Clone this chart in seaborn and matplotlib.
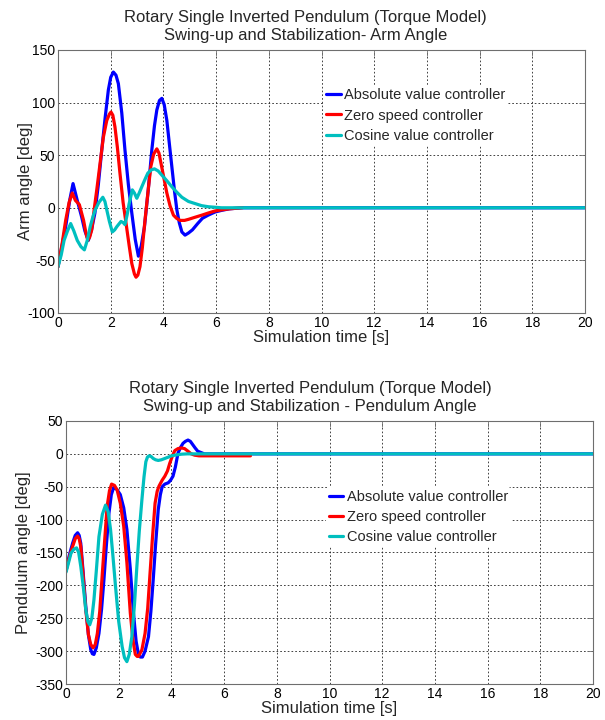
import matplotlib
matplotlib.use("Agg")
import matplotlib.pyplot as plt
import seaborn as sns
import pandas as pd

# ---- Arm angle [deg] vs. time [s] ----
arm_abs_t = [0, 0.29, 0.45, 0.57, 0.73, 0.9, 1.02, 1.15, 1.28, 1.4, 1.53, 1.66, 1.79, 1.91, 2.0, 2.1,
             2.2, 2.29, 2.42, 2.54, 2.67, 2.8, 2.93, 3.05, 3.16, 3.28, 3.42, 3.56, 3.66, 3.75, 3.85, 3.94,
             4.03, 4.13, 4.22, 4.32, 4.42, 4.51, 4.6, 4.7, 4.82, 4.95, 5.1, 5.3, 5.48, 5.7, 5.96, 6.2, 6.5,
             7.0, 20]
arm_abs_v = [-56, -18, 8, 23, 7, -9, -22, -31, -20, -5, 22, 55, 86, 112, 124, 129,
             126, 118, 90, 55, 22, -5, -30, -46, -36, -18, 16, 55, 78, 93, 102, 104,
             98, 83, 62, 39, 16, -2, -14, -23, -26, -24, -21, -15, -10, -7, -4, -2.5, -1,
             0, 0]

arm_zero_t = [0, 0.15, 0.29, 0.42, 0.54, 0.66, 0.81, 0.97, 1.06, 1.13, 1.2, 1.28, 1.38, 1.47, 1.6, 1.72,
              1.85, 1.95, 2.01, 2.08, 2.16, 2.25, 2.35, 2.47, 2.6, 2.7, 2.8, 2.9, 2.96, 3.03, 3.11, 3.2,
              3.3, 3.41, 3.52, 3.63, 3.75, 3.83, 3.91, 4.02, 4.13, 4.25, 4.38, 4.5, 4.63, 4.8, 4.95,
              5.2, 5.46, 5.7, 5.96, 6.2, 6.5, 7.0]
arm_zero_v = [-56, -35, -12, 5, 14, 7, 3, -12, -24, -31, -28, -21, 0, 17, 43, 67,
              83, 89, 91, 88, 77, 58, 33, 5, -18, -36, -53, -63, -66, -64, -56, -38,
              -12, 14, 39, 51, 56, 52, 42, 28, 14, 2, -7, -10, -12, -12, -11,
              -9, -7, -5, -3, -2, -1, 0]

arm_cos_t = [0, 0.12, 0.23, 0.36, 0.48, 0.6, 0.73, 0.87, 1.0, 1.11, 1.22, 1.32, 1.41, 1.55, 1.7, 1.78,
             1.85, 1.95, 2.06, 2.15, 2.23, 2.39, 2.47, 2.54, 2.62, 2.7, 2.82, 2.9, 2.99, 3.08, 3.18,
             3.3, 3.41, 3.54, 3.66, 3.8, 3.94, 4.12, 4.32, 4.5, 4.7, 4.95, 5.2, 5.45, 5.7, 6.2, 20]
arm_cos_v = [-56, -45, -31, -22, -15, -22, -31, -37, -40, -31, -18, -9, -2, 5, 10, 6,
             -2, -13, -23, -21, -18, -13, -14, -16, -7, 4, 17, 14, 9, 14, 20,
             27, 33, 36, 37, 35, 31, 26, 20, 15, 10, 6, 4, 2, 1, 0, 0]

# ---- Pendulum angle [deg] vs. time [s] ----
pend_abs_t = [0, 0.12, 0.25, 0.35, 0.44, 0.5, 0.56, 0.65, 0.75, 0.85, 0.94, 1.0, 1.06, 1.15, 1.25, 1.35,
              1.44, 1.53, 1.63, 1.72, 1.81, 1.93, 2.06, 2.19, 2.31, 2.44, 2.56, 2.66, 2.75, 2.82, 2.9,
              3.0, 3.13, 3.22, 3.31, 3.4, 3.5, 3.58, 3.65, 3.75, 3.88, 3.97, 4.06, 4.15, 4.25, 4.35,
              4.44, 4.53, 4.63, 4.72, 4.81, 4.9, 5.0, 5.25, 20]
pend_abs_v = [-178, -155, -136, -124, -120, -124, -136, -180, -232, -275, -298, -304, -305, -295, -273, -236,
              -191, -140, -90, -62, -51, -54, -62, -82, -115, -175, -242, -285, -305, -309, -309,
              -300, -278, -240, -191, -138, -85, -62, -50, -46, -44, -40, -34, -20, 1, 10,
              16, 19, 21, 19, 14, 9, 4, 0, 0]

pend_zero_t = [0, 0.12, 0.25, 0.35, 0.44, 0.5, 0.56, 0.65, 0.75, 0.85, 0.94, 1.03, 1.11, 1.19, 1.28, 1.38,
               1.47, 1.56, 1.65, 1.73, 1.84, 1.94, 2.06, 2.19, 2.31, 2.44, 2.54, 2.63, 2.7, 2.75, 2.88,
               3.0, 3.1, 3.19, 3.28, 3.38, 3.46, 3.53, 3.65, 3.75, 3.85, 3.94, 4.04, 4.13, 4.25, 4.38,
               4.5, 4.63, 4.75, 4.88, 5.05, 5.25, 6.0, 7.0]
pend_zero_v = [-178, -158, -141, -129, -125, -129, -141, -185, -237, -275, -290, -295, -290, -273, -240, -181,
               -130, -80, -56, -46, -48, -55, -75, -110, -165, -242, -283, -305, -308, -308, -298,
               -273, -235, -181, -128, -75, -57, -49, -40, -34, -26, -14, -3, 5, 8, 9,
               8, 4, 0, -2, -3, -3, -3, -3]

pend_cos_t = [0, 0.1, 0.19, 0.3, 0.4, 0.48, 0.56, 0.65, 0.75, 0.83, 0.9, 0.98, 1.06, 1.15, 1.25, 1.38,
              1.5, 1.6, 1.69, 1.78, 1.88, 2.0, 2.13, 2.22, 2.31, 2.4, 2.5, 2.6, 2.69, 2.78, 2.88,
              2.96, 3.03, 3.09, 3.15, 3.23, 3.31, 3.4, 3.5, 3.62, 3.75, 3.88, 4.0, 4.2, 4.38, 4.6, 20]
pend_cos_v = [-180, -165, -151, -145, -143, -150, -171, -200, -237, -255, -260, -250, -222, -178, -126, -92,
              -78, -88, -115, -155, -202, -255, -293, -310, -316, -305, -278, -228, -171, -118, -70,
              -35, -12, -5, -3, -4, -7, -9, -10, -9, -7, -5, -3, -1.5, -0.5, 0, 0]

series_names = ["Absolute value controller", "Zero speed controller", "Cosine value controller"]
series_colors = ["#0000ff", "#ff0000", "#00bfbf"]

x_ticks = list(range(0, 21, 2))
arm_ticks = list(range(-100, 151, 50))
pend_ticks = list(range(-350, 51, 50))

sns.set_theme(style="white")
plt.rcParams["font.family"] = ["Liberation Sans", "DejaVu Sans"]
plt.rcParams["axes.edgecolor"] = "#6e6e6e"
plt.rcParams["axes.linewidth"] = 0.8

fig = plt.figure(figsize=(6.05, 7.2), dpi=100)
ax1 = fig.add_axes([0.0959, 0.5653, 0.8711, 0.3653])
ax2 = fig.add_axes([0.1091, 0.0500, 0.8711, 0.3653])


def draw_panel(ax, series, yticks, title, title_x, ylabel, ylabel_pad, legend_anchor):
    for (t, v), name, col in zip(series, series_names, series_colors):
        df = pd.DataFrame({"t": t, "v": v})
        sns.lineplot(data=df, x="t", y="v", ax=ax, color=col, linewidth=2.3,
                     label=name, sort=False, estimator=None)
    ax.set_xlim(0, 20)
    ax.set_ylim(yticks[0], yticks[-1])
    ax.set_xticks(x_ticks)
    ax.set_yticks(yticks)
    ax.set_xticklabels([str(x) for x in x_ticks])
    ax.set_yticklabels([str(y) for y in yticks])
    ax.grid(True, color="#222222", linestyle=(0, (2, 2.5)), linewidth=0.6)
    ax.tick_params(direction="in", length=4, width=0.6, top=True, right=True,
                   labelsize=10, pad=2, colors="#6e6e6e", labelcolor="black")
    ax.set_title(title, fontsize=12, linespacing=1.25, pad=7, x=title_x)
    ax.set_xlabel("Simulation time [s]", fontsize=12, labelpad=0)
    ax.set_ylabel(ylabel, fontsize=12, labelpad=ylabel_pad)
    leg = ax.legend(loc="upper left", bbox_to_anchor=legend_anchor, frameon=True,
                    fontsize=10.5, handlelength=1.0, handletextpad=0.25,
                    labelspacing=0.42, borderpad=0.2, borderaxespad=0)
    leg.get_frame().set_facecolor("white")
    leg.get_frame().set_edgecolor("none")
    leg.get_frame().set_alpha(1)
    for h in leg.get_lines():
        h.set_linewidth(2.3)


draw_panel(ax1,
           [(arm_abs_t, arm_abs_v), (arm_zero_t, arm_zero_v), (arm_cos_t, arm_cos_v)],
           arm_ticks,
           "Rotary Single Inverted Pendulum (Torque Model)\nSwing-up and Stabilization- Arm Angle",
           0.469, "Arm angle [deg]", -4, (0.503, 0.865))

draw_panel(ax2,
           [(pend_abs_t, pend_abs_v), (pend_zero_t, pend_zero_v), (pend_cos_t, pend_cos_v)],
           pend_ticks,
           "Rotary Single Inverted Pendulum (Torque Model)\nSwing-up and Stabilization - Pendulum Angle",
           0.463, "Pendulum angle [deg]", 3, (0.493, 0.75))

fig.savefig("out.png", dpi=100)
